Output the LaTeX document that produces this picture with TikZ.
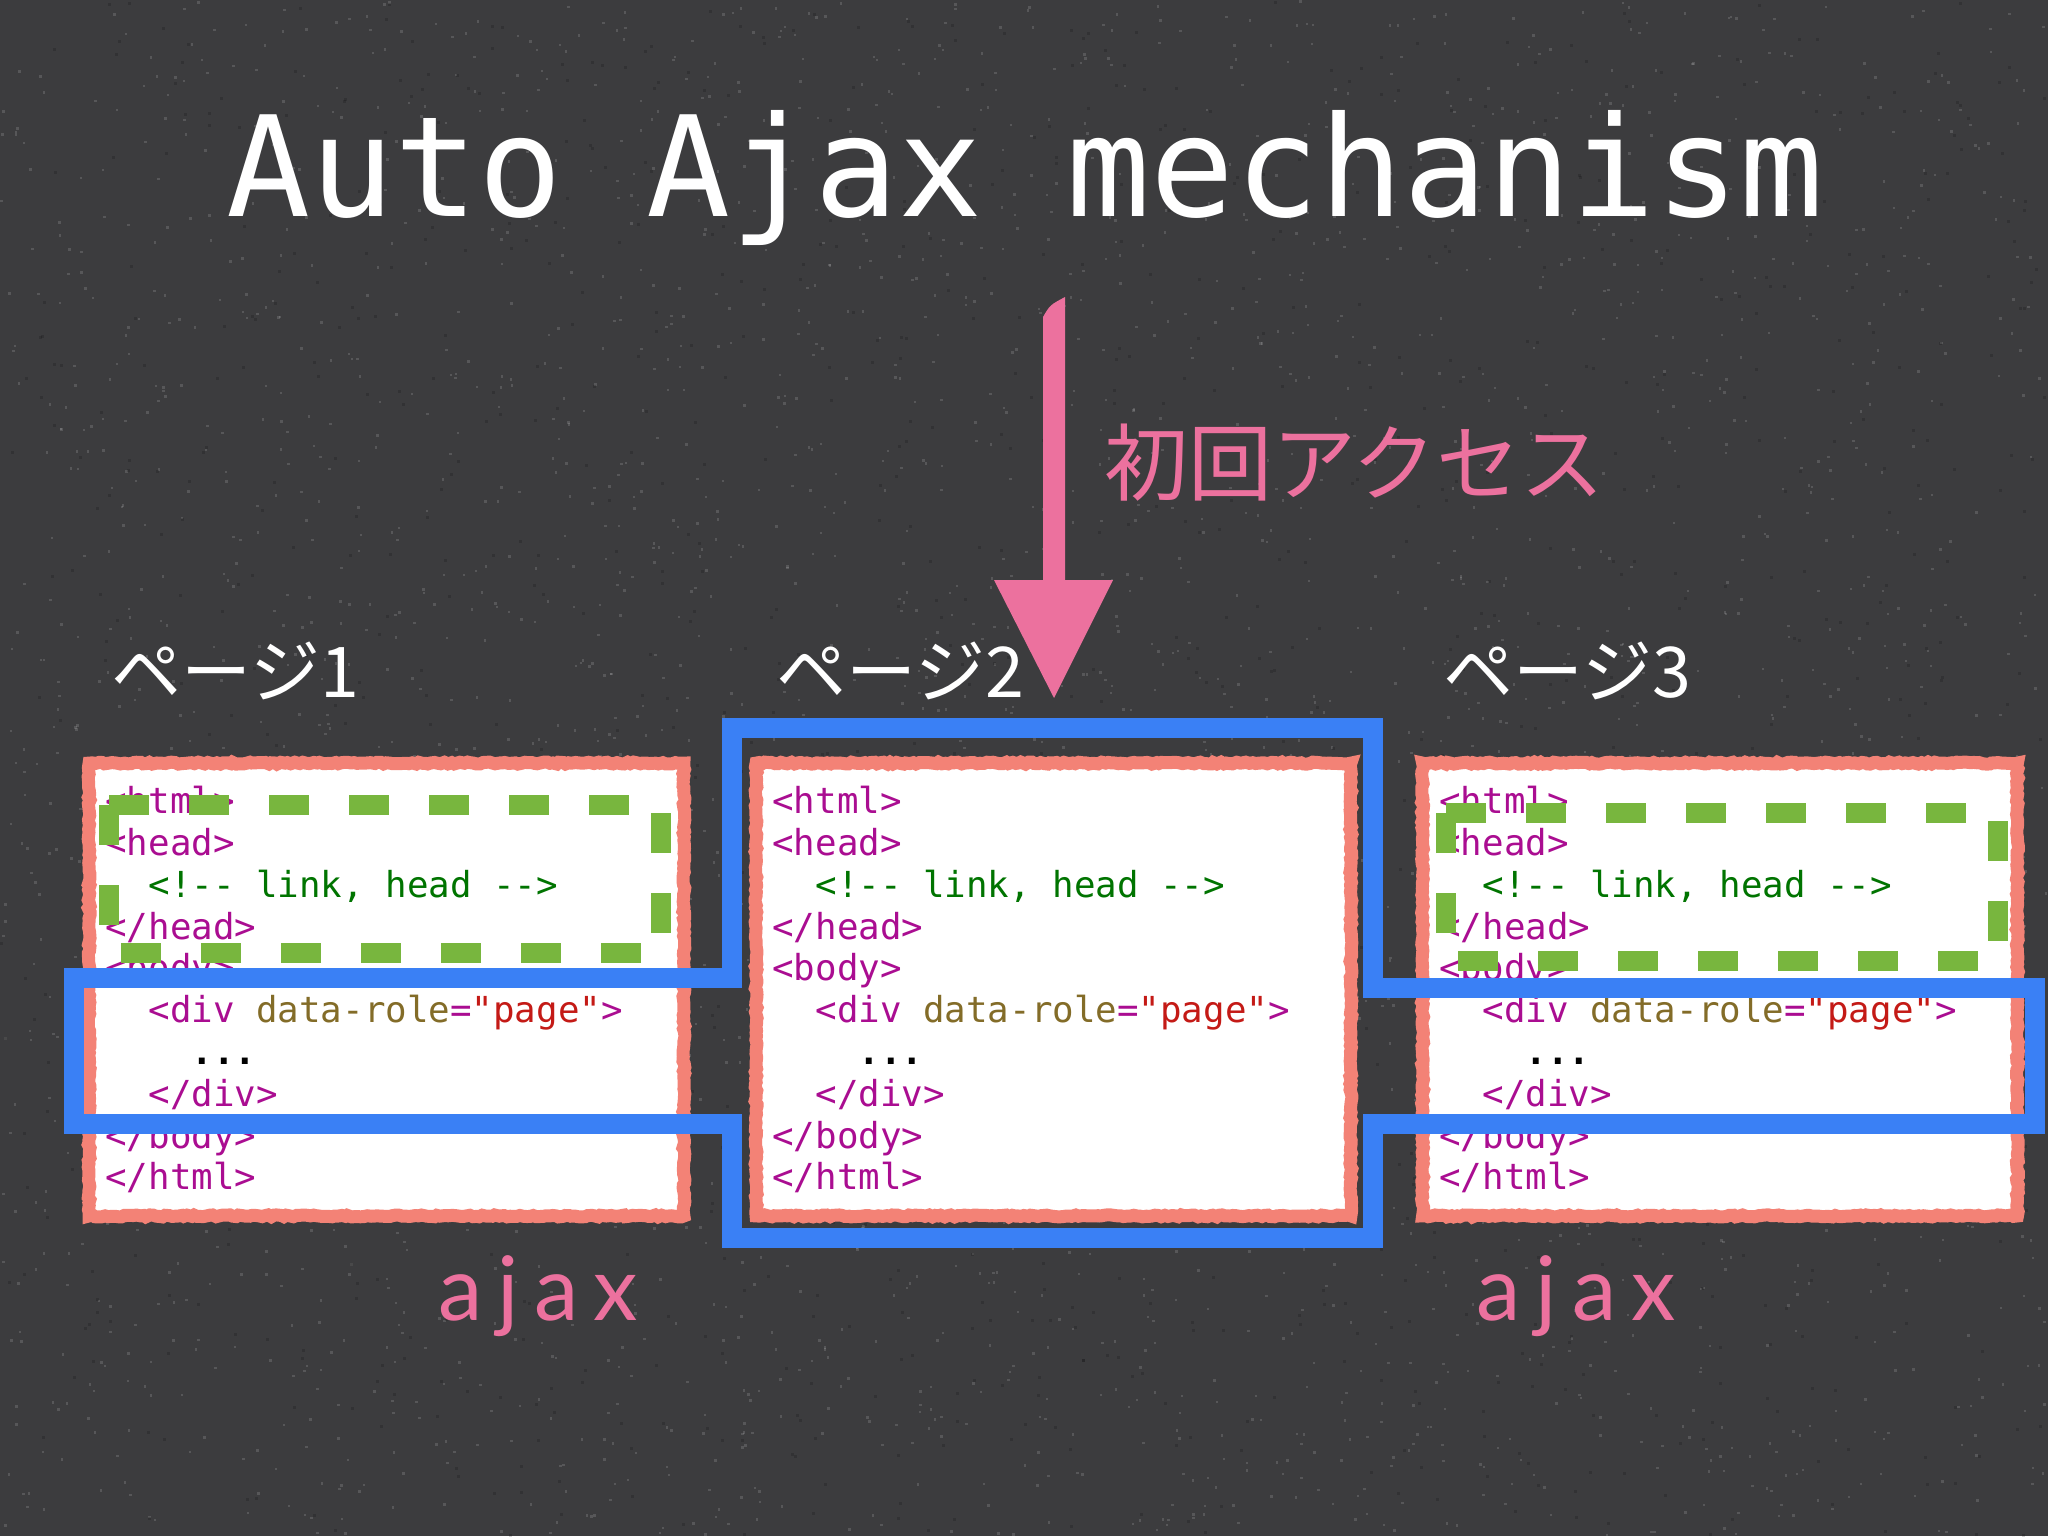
\documentclass[tikz,border=0pt]{standalone}
\usepackage{fontspec}
\setmainfont{DejaVu Sans}
\newfontfamily\codefont{DejaVu Sans Mono}
\newfontfamily\cjkfont{Noto Sans CJK JP}
\newfontfamily\ajaxfont[LetterSpace=17]{Lato}
\usetikzlibrary{decorations.pathmorphing}
\definecolor{bgc}{RGB}{60,60,62}
\definecolor{tagc}{RGB}{170,13,145}
\definecolor{cmtc}{RGB}{0,116,0}
\definecolor{attc}{RGB}{131,108,40}
\definecolor{strc}{RGB}{196,26,22}
\definecolor{salmonc}{RGB}{243,130,118}
\definecolor{bluec}{RGB}{58,128,245}
\definecolor{greenc}{RGB}{120,182,62}
\definecolor{pinkc}{RGB}{236,113,158}
\tikzset{
  codeline/.style={anchor=base west, inner sep=0pt, text=tagc,
    font=\codefont\fontsize{17.9pt}{20pt}\selectfont},
  pagebox/.style={fill=white, draw=none, inner sep=0pt,
    minimum width=297pt, minimum height=226pt},
  roughedge/.style={draw=salmonc, line width=6.5pt,
    decorate, decoration={random steps, segment length=1.6pt, amplitude=0.5pt}},
  headbox/.style={draw=greenc, line width=10pt, dash pattern=on 20pt off 20pt,
    line join=miter, line cap=butt},
  ajaxbox/.style={draw=bluec, line width=10pt, line join=miter},
  pagelabel/.style={anchor=base west, inner sep=0pt, text=white,
    font=\cjkfont\fontsize{35pt}{40pt}\selectfont},
  ajaxlabel/.style={anchor=base west, inner sep=0pt, text=pinkc,
    font=\ajaxfont\fontsize{44.5pt}{50pt}\selectfont},
}
\newcommand{\htmlcode}[2]{%
  \node[codeline] (#1-1) at (#2,813.6) {<html>};
  \node[codeline] (#1-2) at (#2,855.4) {<head>};
  \node[codeline,text=cmtc] (#1-3) at (#2,897.2) {\phantom{aa}<!-{}- link, head -{}->};
  \node[codeline] (#1-4) at (#2,939.0) {</head>};
  \node[codeline] (#1-5) at (#2,980.8) {<body>};
  \node[codeline] (#1-6) at (#2,1022.6) {\phantom{aa}<div \textcolor{attc}{data-role}=\textcolor{strc}{"page"}>};
  \node[codeline,text=black] (#1-7) at (#2,1064.4) {\phantom{aaaa}\textbf{...}};
  \node[codeline] (#1-8) at (#2,1106.2) {\phantom{aa}</div>};
  \node[codeline] (#1-9) at (#2,1148.0) {</body>};
  \node[codeline] (#1-10) at (#2,1189.8) {</html>};
}
\begin{document}
\begin{tikzpicture}[x=0.5pt,y=-0.5pt]
  % background
  \fill[bgc] (0,0) rectangle (2048,1536);
  \useasboundingbox (0,0) rectangle (2048,1536);
  \pgfmathsetseed{7}
  \foreach \i in {1,...,3000}{
    \pgfmathsetmacro\xa{rnd*2046}
    \pgfmathsetmacro\ya{rnd*1534}
    \fill[white,opacity=0.14] (\xa,\ya) rectangle ++(2.5,2.5);
  }
  \foreach \i in {1,...,1200}{
    \pgfmathsetmacro\xa{rnd*2046}
    \pgfmathsetmacro\ya{rnd*1534}
    \fill[black,opacity=0.16] (\xa,\ya) rectangle ++(3,3);
  }

  % title
  \node[anchor=base, inner sep=0pt, text=white,
    font=\codefont\fontsize{69.8pt}{80pt}\selectfont] (title) at (1025,216) {Auto Ajax mechanism};

  % page boxes
  \node[pagebox] (p1) at (386.5,989.5) {};
  \node[pagebox] (p2) at (1053.5,989.5) {};
  \node[pagebox] (p3) at (1720,989.5) {};
  \foreach \p in {p1,p2,p3}{
    \draw[roughedge] (\p.north west) -- (\p.north east) -- (\p.south east) -- (\p.south west) -- cycle;
  }

  % code
  \htmlcode{c1}{105}
  \htmlcode{c2}{772}
  \htmlcode{c3}{1439}

  % green dashed head regions
  \draw[headbox] (109,805) -- (661,805) -- (661,953) -- (109,953) -- cycle;
  \draw[headbox] (1446,813) -- (1998,813) -- (1998,961) -- (1446,961) -- cycle;

  % blue outline of the ajax-replaced regions
  \draw[ajaxbox] (74,978) -- (732,978) -- (732,728) -- (1373,728) -- (1373,988)
    -- (2035,988) -- (2035,1124) -- (1373,1124) -- (1373,1238) -- (732,1238)
    -- (732,1124) -- (74,1124) -- cycle;

  % page labels
  \node[pagelabel] (l1) at (111,697) {ページ1};
  \node[pagelabel] (l2) at (776,697) {ページ2};
  \node[pagelabel] (l3) at (1443,697) {ページ3};

  % first access arrow
  \fill[pinkc] (1043,317) .. controls (1050,305) .. (1065,297) -- (1065,580) -- (1113,580)
    -- (1054,698) -- (994,580) -- (1043,580) -- cycle;
  \node[anchor=base west, inner sep=0pt, text=pinkc,
    font=\cjkfont\fontsize{42pt}{48pt}\selectfont] (access) at (1104,494) {初回アクセス};

  % ajax labels
  \node[ajaxlabel] (a1) at (438,1320) {ajax};
  \node[ajaxlabel] (a3) at (1476,1320) {ajax};
\end{tikzpicture}
\end{document}
